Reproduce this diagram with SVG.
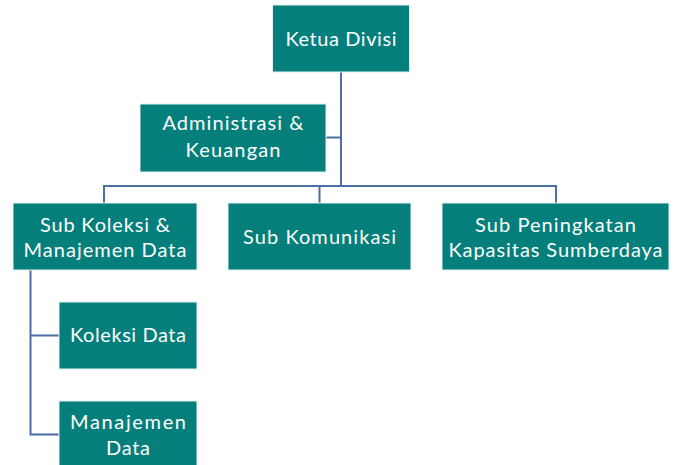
<svg xmlns="http://www.w3.org/2000/svg" width="676" height="465" viewBox="0 0 676 465">
<style>
.box{fill:#047F7B;stroke:#E6F0EF;stroke-width:1}
.t{font-family:Lato,"Open Sans","Liberation Sans",sans-serif;font-size:20px;fill:#FFFFFF;text-anchor:middle}
.c{fill:none;stroke:#4A6FA5;stroke-width:2}
</style>
<rect width="676" height="465" fill="#FFFFFF"/>
<g id="connectors">
<path class="c" d="M341,72 V186"/>
<path class="c" d="M326,137.5 H341"/>
<path class="c" d="M104,203 V186 H556 V203"/>
<path class="c" d="M319.5,186 V203"/>
<path class="c" d="M30.5,270 V434.5 H59"/>
<path class="c" d="M30.5,335.5 H59"/>
</g>
<g id="ketua-divisi">
<rect class="box" x="272.5" y="5" width="137" height="67"/>
<text class="t" x="341" y="46" textLength="111">Ketua Divisi</text>
</g>
<g id="administrasi-keuangan">
<rect class="box" x="140" y="104" width="186" height="68"/>
<text class="t" x="233" y="130" textLength="141">Administrasi &amp;</text>
<text class="t" x="233" y="157" textLength="95">Keuangan</text>
</g>
<g id="sub-koleksi">
<rect class="box" x="13" y="203" width="184" height="67"/>
<text class="t" x="105" y="231.5" textLength="130">Sub Koleksi &amp;</text>
<text class="t" x="105" y="256.5" textLength="163">Manajemen Data</text>
</g>
<g id="sub-komunikasi">
<rect class="box" x="228" y="203" width="183" height="67"/>
<text class="t" x="319.5" y="244" textLength="153">Sub Komunikasi</text>
</g>
<g id="sub-peningkatan">
<rect class="box" x="442" y="203" width="227" height="67"/>
<text class="t" x="555.5" y="231.5" textLength="161">Sub Peningkatan</text>
<text class="t" x="555.5" y="256.5" textLength="214">Kapasitas Sumberdaya</text>
</g>
<g id="koleksi-data">
<rect class="box" x="59" y="302" width="138" height="67"/>
<text class="t" x="128" y="342" textLength="116">Koleksi Data</text>
</g>
<g id="manajemen-data">
<rect class="box" x="59" y="401" width="138" height="67"/>
<text class="t" x="128" y="428.5" textLength="116">Manajemen</text>
<text class="t" x="128" y="454.5" textLength="44">Data</text>
</g>
</svg>
